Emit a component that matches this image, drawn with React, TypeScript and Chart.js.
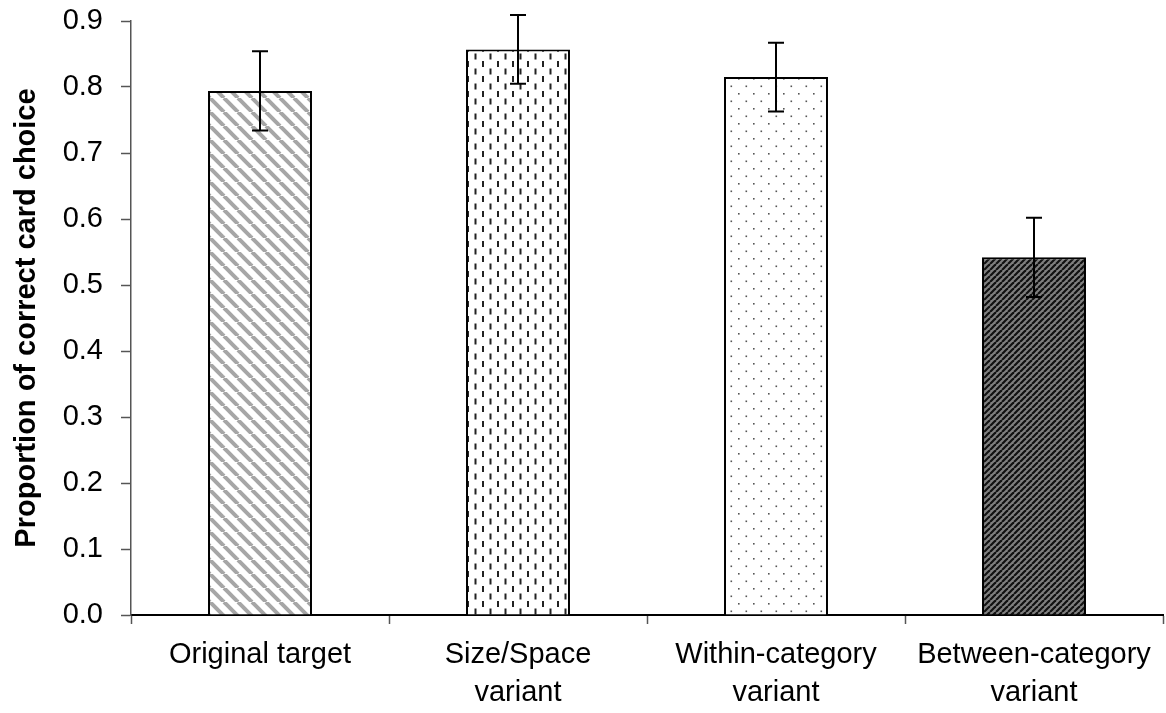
import React, { useEffect, useRef } from 'react';
import { Chart, registerables } from 'chart.js';

Chart.register(...registerables);

const categories: string[][] = [
  ['Original target'],
  ['Size/Space', 'variant'],
  ['Within-category', 'variant'],
  ['Between-category', 'variant'],
];
const means: number[] = [0.794, 0.857, 0.815, 0.542];
const errors: number[] = [0.06, 0.052, 0.052, 0.06];
const yMin = 0;
const yMax = 0.9;
const yStep = 0.1;
const yTitle = 'Proportion of correct card choice';

const FONT = "'Liberation Sans', Arial, sans-serif";

function makeTile(w: number, h: number, draw: (c: CanvasRenderingContext2D) => void, ctx: CanvasRenderingContext2D): CanvasPattern {
  const cv = document.createElement('canvas');
  cv.width = w;
  cv.height = h;
  const c = cv.getContext('2d')!;
  draw(c);
  return ctx.createPattern(cv, 'repeat')!;
}

function buildPatterns(ctx: CanvasRenderingContext2D): CanvasPattern[] {
  const p1 = makeTile(14, 14, (c) => {
    c.fillStyle = '#ffffff';
    c.fillRect(0, 0, 14, 14);
    c.strokeStyle = '#a6a6a6';
    c.lineWidth = 4;
    for (const o of [-14, 0, 14]) {
      c.beginPath();
      c.moveTo(o, 0);
      c.lineTo(o + 14, 14);
      c.stroke();
    }
  }, ctx);
  const p2 = makeTile(15, 15, (c) => {
    c.fillStyle = '#ffffff';
    c.fillRect(0, 0, 15, 15);
    c.fillStyle = '#222222';
    c.fillRect(2, 1, 2, 6);
    c.fillRect(9.5, 8.5, 2, 6);
  }, ctx);
  const p3 = makeTile(15, 15, (c) => {
    c.fillStyle = '#ffffff';
    c.fillRect(0, 0, 15, 15);
    c.fillStyle = '#555555';
    c.fillRect(3, 3, 1.6, 1.6);
    c.fillRect(10.5, 10.5, 1.6, 1.6);
  }, ctx);
  const p4 = makeTile(6, 6, (c) => {
    c.fillStyle = '#7f7f7f';
    c.fillRect(0, 0, 6, 6);
    c.strokeStyle = '#111111';
    c.lineWidth = 2.2;
    for (const o of [-6, 0, 6]) {
      c.beginPath();
      c.moveTo(o, 6);
      c.lineTo(o + 6, 0);
      c.stroke();
    }
  }, ctx);
  return [p1, p2, p3, p4];
}

const errorBarPlugin = {
  id: 'errorBars',
  afterDatasetsDraw(chart: any) {
    const meta = chart.getDatasetMeta(0);
    const yScale = chart.scales.y;
    const ctx = chart.ctx as CanvasRenderingContext2D;
    ctx.save();
    ctx.strokeStyle = '#000000';
    ctx.lineWidth = 2;
    meta.data.forEach((bar: any, i: number) => {
      const x = bar.x;
      const top = yScale.getPixelForValue(means[i] + errors[i]);
      const bot = yScale.getPixelForValue(means[i] - errors[i]);
      ctx.beginPath();
      ctx.moveTo(x, top);
      ctx.lineTo(x, bot);
      ctx.moveTo(x - 8, top);
      ctx.lineTo(x + 8, top);
      ctx.moveTo(x - 8, bot);
      ctx.lineTo(x + 8, bot);
      ctx.stroke();
    });
    ctx.restore();
  },
};

export default function App() {
  const ref = useRef<HTMLCanvasElement | null>(null);

  useEffect(() => {
    document.body.style.margin = '0';
    const canvas = ref.current!;
    const ctx = canvas.getContext('2d')!;
    const patterns = buildPatterns(ctx);
    const chart = new Chart(canvas, {
      type: 'bar',
      data: {
        labels: categories,
        datasets: [
          {
            data: means,
            backgroundColor: patterns as any,
            borderColor: '#000000',
            borderWidth: 2,
            barPercentage: 0.403,
            categoryPercentage: 1,
          },
        ],
      },
      options: {
        responsive: false,
        animation: false,
        devicePixelRatio: 1,
        layout: { padding: { top: 21, right: 3, left: 0, bottom: 0 } },
        plugins: {
          legend: { display: false },
          tooltip: { enabled: false },
        },
        scales: {
          x: {
            grid: {
              display: true,
              drawOnChartArea: false,
              drawTicks: true,
              tickLength: 9,
              tickWidth: 1.5,
              tickColor: '#555555',
              offset: true,
            },
            border: { display: true, color: '#000000', width: 2 },
            ticks: {
              color: '#000000',
              padding: 12,
              maxRotation: 0,
              autoSkip: false,
              font: { family: FONT, size: 29, lineHeight: 1.32 },
            },
            afterFit: (scale: any) => {
              scale.height = 98;
              scale.paddingLeft = 0;
              scale.paddingRight = 0;
            },
          },
          y: {
            min: yMin,
            max: yMax,
            grid: {
              display: true,
              drawOnChartArea: false,
              drawTicks: true,
              tickLength: 10,
              tickWidth: 1.5,
              tickColor: '#555555',
            },
            border: { display: true, color: '#555555', width: 1.5 },
            ticks: {
              stepSize: yStep,
              color: '#000000',
              padding: 18,
              font: { family: FONT, size: 29 },
              callback: (v: any) => Number(v).toFixed(1),
            },
            title: {
              display: true,
              text: yTitle,
              color: '#000000',
              font: { family: FONT, size: 29, weight: 'bold' },
              padding: { top: 10, bottom: 0 },
            },
            afterFit: (scale: any) => {
              scale.width = 131;
              scale.paddingTop = 0;
              scale.paddingBottom = 0;
            },
          },
        },
      },
      plugins: [errorBarPlugin],
    });
    return () => chart.destroy();
  }, []);

  return (
    <div style={{ width: 1166, height: 713, background: '#ffffff' }}>
      <canvas ref={ref} width={1166} height={713} style={{ display: 'block' }} />
    </div>
  );
}
